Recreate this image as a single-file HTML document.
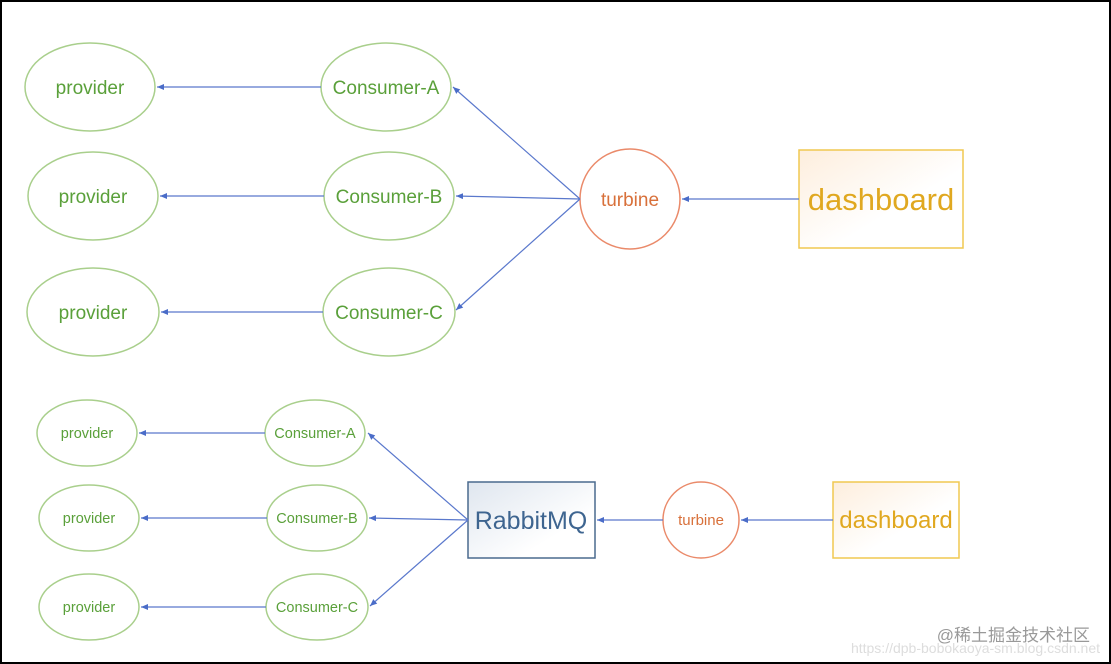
<!DOCTYPE html>
<html><head><style>html,body{margin:0;padding:0;background:#fff}svg{display:block}</style></head>
<body>
<svg width="1111" height="664" xmlns="http://www.w3.org/2000/svg" font-family="'Liberation Sans', 'Noto Sans CJK SC', sans-serif">
<defs>
<marker id="a" markerWidth="8" markerHeight="8" refX="7" refY="4" orient="auto" markerUnits="userSpaceOnUse"><path d="M0,1 L7,4 L0,7 z" fill="#4a6cc8"/></marker>
<linearGradient id="gy" x1="0" y1="0" x2="1" y2="1"><stop offset="0" stop-color="#fdeedd"/><stop offset="0.6" stop-color="#fff"/></linearGradient>
<linearGradient id="gb" x1="0" y1="0" x2="1" y2="1"><stop offset="0" stop-color="#dfe6ef"/><stop offset="0.7" stop-color="#fff"/></linearGradient>
</defs>
<rect x="1" y="1" width="1109" height="662" fill="#fff" stroke="#000" stroke-width="2"/>
<g fill="#fff" stroke="#a9cf8c" stroke-width="1.5">
<ellipse cx="90" cy="87" rx="65" ry="44"/><ellipse cx="93" cy="196" rx="65" ry="44"/><ellipse cx="93" cy="312" rx="66" ry="44"/>
<ellipse cx="386" cy="87" rx="65" ry="44"/><ellipse cx="389" cy="196" rx="65" ry="44"/><ellipse cx="389" cy="312" rx="66" ry="44"/>
<ellipse cx="87" cy="433" rx="50" ry="33"/><ellipse cx="89" cy="518" rx="50" ry="33"/><ellipse cx="89" cy="607" rx="50" ry="33"/>
<ellipse cx="315" cy="433" rx="50" ry="33"/><ellipse cx="317" cy="518" rx="50" ry="33"/><ellipse cx="317" cy="607" rx="51" ry="33"/>
</g>
<circle cx="630" cy="199" r="50" fill="#fff" stroke="#ea8a6a" stroke-width="1.5"/>
<circle cx="701" cy="520" r="38" fill="#fff" stroke="#ea8a6a" stroke-width="1.5"/>
<rect x="799" y="150" width="164" height="98" fill="url(#gy)" stroke="#f0c850" stroke-width="1.5"/>
<rect x="833" y="482" width="126" height="76" fill="url(#gy)" stroke="#f0c850" stroke-width="1.5"/>
<rect x="468" y="482" width="127" height="76" fill="url(#gb)" stroke="#4a6a8e" stroke-width="1.5"/>
<g stroke="#5a78cc" stroke-width="1.2" marker-end="url(#a)">
<line x1="321" y1="87" x2="157" y2="87"/><line x1="324" y1="196" x2="160" y2="196"/><line x1="323" y1="312" x2="161" y2="312"/>
<line x1="580" y1="199" x2="453" y2="87"/><line x1="580" y1="199" x2="456" y2="196"/><line x1="580" y1="199" x2="456" y2="310"/>
<line x1="799" y1="199" x2="682" y2="199"/>
<line x1="265" y1="433" x2="139" y2="433"/><line x1="267" y1="518" x2="141" y2="518"/><line x1="266" y1="607" x2="141" y2="607"/>
<line x1="468" y1="520" x2="368" y2="433"/><line x1="468" y1="520" x2="369" y2="518"/><line x1="468" y1="520" x2="370" y2="606"/>
<line x1="663" y1="520" x2="597" y2="520"/><line x1="833" y1="520" x2="741" y2="520"/>
</g>
<g fill="#5aa03a" text-anchor="middle" font-size="19">
<text x="90" y="94">provider</text><text x="93" y="203">provider</text><text x="93" y="319">provider</text>
<text x="386" y="94">Consumer-A</text><text x="389" y="203">Consumer-B</text><text x="389" y="319">Consumer-C</text>
</g>
<g fill="#5aa03a" text-anchor="middle" font-size="14.5">
<text x="87" y="438">provider</text><text x="89" y="523">provider</text><text x="89" y="612">provider</text>
<text x="315" y="438">Consumer-A</text><text x="317" y="523">Consumer-B</text><text x="317" y="612">Consumer-C</text>
</g>
<text x="630" y="206" fill="#d8703a" font-size="19" text-anchor="middle">turbine</text>
<text x="701" y="525" fill="#d8703a" font-size="15" text-anchor="middle">turbine</text>
<text x="881" y="210" fill="#e0a820" font-size="31" text-anchor="middle">dashboard</text>
<text x="896" y="528" fill="#e0a820" font-size="24" text-anchor="middle">dashboard</text>
<text x="531" y="529" fill="#3e6590" font-size="25" text-anchor="middle">RabbitMQ</text>
<text x="1090" y="641" fill="#999" font-size="17" text-anchor="end">@稀土掘金技术社区</text>
<text x="1100" y="653" fill="#ddd" font-size="14" text-anchor="end">https://dpb-bobokaoya-sm.blog.csdn.net</text>
</svg>
</body></html>
